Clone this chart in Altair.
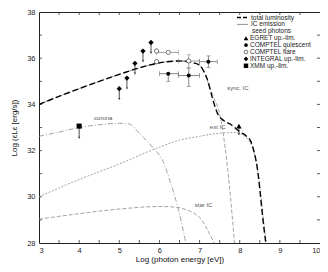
import altair as alt
import pandas as pd

# ---- model curves: log photon energy [eV] vs log luminosity ----
total_x = [3.0, 3.5, 4.0, 4.5, 5.0, 5.5, 6.0, 6.5, 6.8, 7.0, 7.1, 7.2, 7.3, 7.45, 7.6, 7.77, 8.0, 8.15, 8.27, 8.35, 8.45, 8.52, 8.58, 8.65]
total_y = [34.0, 34.35, 34.68, 35.0, 35.3, 35.58, 35.8, 35.88, 35.82, 35.7, 35.45, 35.05, 34.4, 33.6, 33.3, 33.14, 32.82, 32.65, 32.42, 32.0, 31.1, 30.0, 29.0, 28.0]
sync_x = [3.0, 3.5, 4.0, 4.5, 5.0, 5.5, 6.0, 6.5, 6.8, 7.0, 7.1, 7.2, 7.35, 7.5, 7.6, 7.7, 7.78, 7.87]
sync_y = [34.0, 34.35, 34.68, 35.0, 35.3, 35.58, 35.8, 35.88, 35.82, 35.7, 35.45, 35.0, 34.3, 33.6, 32.6, 31.2, 29.8, 28.0]
ext_x = [3.0, 4.0, 5.0, 6.0, 6.5, 7.0, 7.5, 7.9, 8.05, 8.2, 8.3, 8.4, 8.5, 8.58, 8.66]
ext_y = [30.0, 30.75, 31.42, 32.15, 32.45, 32.62, 32.75, 32.78, 32.7, 32.5, 32.2, 31.6, 30.5, 29.2, 28.0]
cor_x = [3.0, 3.5, 4.0, 4.5, 5.0, 5.25, 5.5, 5.7, 5.85, 6.0, 6.1, 6.26, 6.45, 6.66]
cor_y = [32.62, 32.8, 33.0, 33.12, 33.18, 33.15, 32.75, 32.4, 32.1, 31.8, 31.5, 30.7, 29.6, 28.0]
star_x = [3.0, 4.0, 5.0, 6.0, 6.45, 6.7, 6.85, 7.05, 7.2, 7.36]
star_y = [29.03, 29.27, 29.47, 29.58, 29.54, 29.42, 29.3, 29.0, 28.56, 28.0]

# ---- observations ----
integral_x = [5.0, 5.19, 5.39, 5.59, 5.79]
integral_y = [34.68, 35.14, 35.78, 36.31, 36.68]
integral_lo = [34.23, 34.69, 35.33, 35.86, 36.23]

quiet_x = [6.22, 6.73, 7.22]
quiet_y = [35.33, 35.25, 35.85]
quiet_xlo = [6.0, 6.47, 7.0]
quiet_xhi = [6.47, 7.0, 7.44]
quiet_ylo = [35.0, 34.78, 35.6]
quiet_yhi = [35.33, 35.57, 36.1]

flare_x = [5.93, 6.22, 6.73, 5.93]
flare_y = [36.31, 36.25, 35.88, 35.85]
flare_xlo = [5.93, 5.93, 6.47, 5.93]
flare_xhi = [5.93, 6.47, 7.0, 5.93]
flare_ylo = [36.31, 36.25, 35.6, 35.85]
flare_yhi = [36.31, 36.25, 36.15, 35.85]

egret_x = [7.98]
egret_y = [33.06]
egret_lo = [32.7]

xmm_x = [4.0]
xmm_y = [33.06]
xmm_lo = [32.55]

ann_text = ["corona", "ext IC", "sync. IC", "star IC"]
ann_x = [4.6, 7.45, 7.95, 7.1]
ann_y = [33.42, 33.03, 34.7, 29.65]

x_ticks = [3.5, 4.0, 4.5, 5.0, 5.5, 6.0, 6.5, 7.0, 7.5, 8.0, 8.5, 9.0, 9.5]
y_ticks = [29, 30, 31, 32, 33, 34, 35, 36, 37]
x_labels = [3, 4, 5, 6, 7, 8, 9, 10]
y_labels = [28, 30, 32, 34, 36, 38]

leg_lines = ["total luminosity", "IC emission", "seed photons"]
leg_marks = ["EGRET up.-lim.", "COMPTEL quiescent", "COMPTEL flare", "INTEGRAL up.-lim.", "XMM up.-lim."]

TOP = 4
W, H = 281, 231
FONT = "Liberation Sans"
xs = alt.Scale(domain=[3, 10], nice=False, zero=False)
ys = alt.Scale(domain=[28, 38], nice=False, zero=False)

AX = alt.Axis(values=x_labels, format="d", ticks=False, domain=False, grid=False,
              labelFontSize=7.5, labelPadding=3, labelFont=FONT, labelColor="#222",
              title="Log (photon energy [eV])", titleFont=FONT, titleFontSize=8,
              titleFontWeight="normal", titlePadding=2, titleColor="#111")
AY = alt.Axis(values=y_labels, format="d", ticks=False, domain=False, grid=False,
              labelFontSize=7.5, labelPadding=4, labelFont=FONT, labelColor="#222",
              title="Log (εLε [erg/s])", titleFont=FONT, titleFontSize=8,
              titleFontWeight="normal", titlePadding=8, titleColor="#111")


def X(f):
    return alt.X(f, scale=xs, axis=AX)


def Y(f):
    return alt.Y(f, scale=ys, axis=AY)


def curve(xv, yv, color, width, dash):
    df = pd.DataFrame({"x": xv, "y": yv})
    return alt.Chart(df).mark_line(color=color, strokeWidth=width, strokeDash=dash,
                                   interpolate="monotone", clip=True).encode(x=X("x:Q"), y=Y("y:Q"))


xt = pd.DataFrame({"v": x_ticks})
yt = pd.DataFrame({"v": y_ticks})
tick_layers = [
    alt.Chart(xt).mark_rule(color="#333", strokeWidth=0.8).encode(
        x=X("v:Q"), y=alt.value(H), y2=alt.value(H - 3)),
    alt.Chart(xt).mark_rule(color="#333", strokeWidth=0.8).encode(
        x=X("v:Q"), y=alt.value(0), y2=alt.value(3)),
    alt.Chart(yt).mark_rule(color="#333", strokeWidth=0.8).encode(
        y=Y("v:Q"), x=alt.value(0), x2=alt.value(3)),
    alt.Chart(yt).mark_rule(color="#333", strokeWidth=0.8).encode(
        y=Y("v:Q"), x=alt.value(W), x2=alt.value(W - 3)),
]

GRAY = "#8a8a8a"
curves = [
    curve(star_x, star_y, GRAY, 0.8, [4, 2]),
    curve(cor_x, cor_y, GRAY, 0.8, [5, 2, 1, 2]),
    curve(ext_x, ext_y, GRAY, 0.8, [2, 1.5]),
    curve(sync_x, sync_y, GRAY, 0.8, [4, 2]),
    curve(total_x, total_y, "#000", 1.4, [6, 3]),
]


def uplim(xv, yv, lo, shape, size):
    df = pd.DataFrame({"x": xv, "y": yv, "lo": lo})
    rule = alt.Chart(df).mark_rule(color="#222", strokeWidth=0.8).encode(
        x=X("x:Q"), y=Y("y:Q"), y2="lo:Q")
    head = alt.Chart(df).mark_point(shape="triangle-down", filled=True, color="#222", size=6).encode(
        x=X("x:Q"), y=Y("lo:Q"))
    pt = alt.Chart(df).mark_point(shape=shape, filled=True, color="#000", size=size, opacity=1).encode(
        x=X("x:Q"), y=Y("y:Q"))
    return [rule, head, pt]


def errpts(xv, yv, xlo, xhi, ylo, yhi, filled, color):
    df = pd.DataFrame({"x": xv, "y": yv, "xlo": xlo, "xhi": xhi, "ylo": ylo, "yhi": yhi})
    hbar = alt.Chart(df).mark_rule(color=color, strokeWidth=0.7).encode(
        x=X("xlo:Q"), x2="xhi:Q", y=Y("y:Q"))
    vbar = alt.Chart(df).mark_rule(color=color, strokeWidth=0.7).encode(
        x=X("x:Q"), y=Y("ylo:Q"), y2="yhi:Q")
    capl = alt.Chart(df).mark_tick(color=color, thickness=0.7, size=5, orient="vertical").encode(
        x=X("xlo:Q"), y=Y("y:Q"))
    capr = alt.Chart(df).mark_tick(color=color, thickness=0.7, size=5, orient="vertical").encode(
        x=X("xhi:Q"), y=Y("y:Q"))
    capb = alt.Chart(df).mark_tick(color=color, thickness=0.7, size=4, orient="horizontal").encode(
        x=X("x:Q"), y=Y("ylo:Q"))
    capt = alt.Chart(df).mark_tick(color=color, thickness=0.7, size=4, orient="horizontal").encode(
        x=X("x:Q"), y=Y("yhi:Q"))
    if filled:
        pt = alt.Chart(df).mark_point(shape="circle", filled=True, color="#000", size=16, opacity=1).encode(
            x=X("x:Q"), y=Y("y:Q"))
    else:
        pt = alt.Chart(df).mark_point(shape="circle", filled=True, fill="white", stroke="#555",
                                      strokeWidth=0.8, size=18, opacity=1).encode(
            x=X("x:Q"), y=Y("y:Q"))
    return [hbar, vbar, capl, capr, capb, capt, pt]


points = []
points += errpts(quiet_x, quiet_y, quiet_xlo, quiet_xhi, quiet_ylo, quiet_yhi, True, "#555")
points += errpts(flare_x, flare_y, flare_xlo, flare_xhi, flare_ylo, flare_yhi, False, "#777")
points += uplim(integral_x, integral_y, integral_lo, "diamond", 28)
points += uplim(egret_x, egret_y, egret_lo, "triangle-up", 30)
points += uplim(xmm_x, xmm_y, xmm_lo, "square", 26)

ann_df = pd.DataFrame({"x": ann_x, "y": ann_y, "t": ann_text})
ann = alt.Chart(ann_df).mark_text(font=FONT, fontSize=6, color="#555").encode(
    x=X("x:Q"), y=Y("y:Q"), text="t:N")

# ---- legend (pixel layout inside plot area) ----
one = pd.DataFrame({"a": [0]})
leg = []
row_y = [5.5, 12.4, 19.3, 26.2, 33.1, 40.0, 46.9, 53.8]
line_styles = [("#000", 1.4, [4, 2]), ("#777", 0.8, [1, 0]), None]
for i, lab in enumerate(leg_lines):
    st = line_styles[i]
    if st is not None:
        leg.append(alt.Chart(one).mark_rule(color=st[0], strokeWidth=st[1], strokeDash=st[2]).encode(
            x=alt.value(198), x2=alt.value(209), y=alt.value(row_y[i])))
    leg.append(alt.Chart(one).mark_text(font=FONT, fontSize=6.5, align="left", baseline="middle",
                                        color="#222", text=lab).encode(
        x=alt.value(212 if i < 2 else 213), y=alt.value(row_y[i])))
mk = [("triangle-up", True, 22), ("circle", True, 14), ("circle", False, 14),
      ("diamond", True, 22), ("square", True, 20)]
for j, lab in enumerate(leg_marks):
    shp, fil, sz = mk[j]
    yy = row_y[3 + j]
    if fil:
        m = alt.Chart(one).mark_point(shape=shp, filled=True, color="#000", size=sz, opacity=1)
    else:
        m = alt.Chart(one).mark_point(shape=shp, filled=True, fill="white", stroke="#555",
                                      strokeWidth=0.8, size=sz, opacity=1)
    leg.append(m.encode(x=alt.value(207), y=alt.value(yy)))
    leg.append(alt.Chart(one).mark_text(font=FONT, fontSize=6.5, align="left", baseline="middle",
                                        color="#222", text=lab).encode(
        x=alt.value(211), y=alt.value(yy)))

chart = alt.layer(*tick_layers, *curves, *points, ann, *leg).properties(
    width=W, height=H, padding={"left": 31, "top": TOP, "right": 0, "bottom": 22}, autosize="none"
).configure_view(stroke="#222", strokeWidth=1)

chart.save("out.html", embed_options={"renderer": "svg", "actions": False})
